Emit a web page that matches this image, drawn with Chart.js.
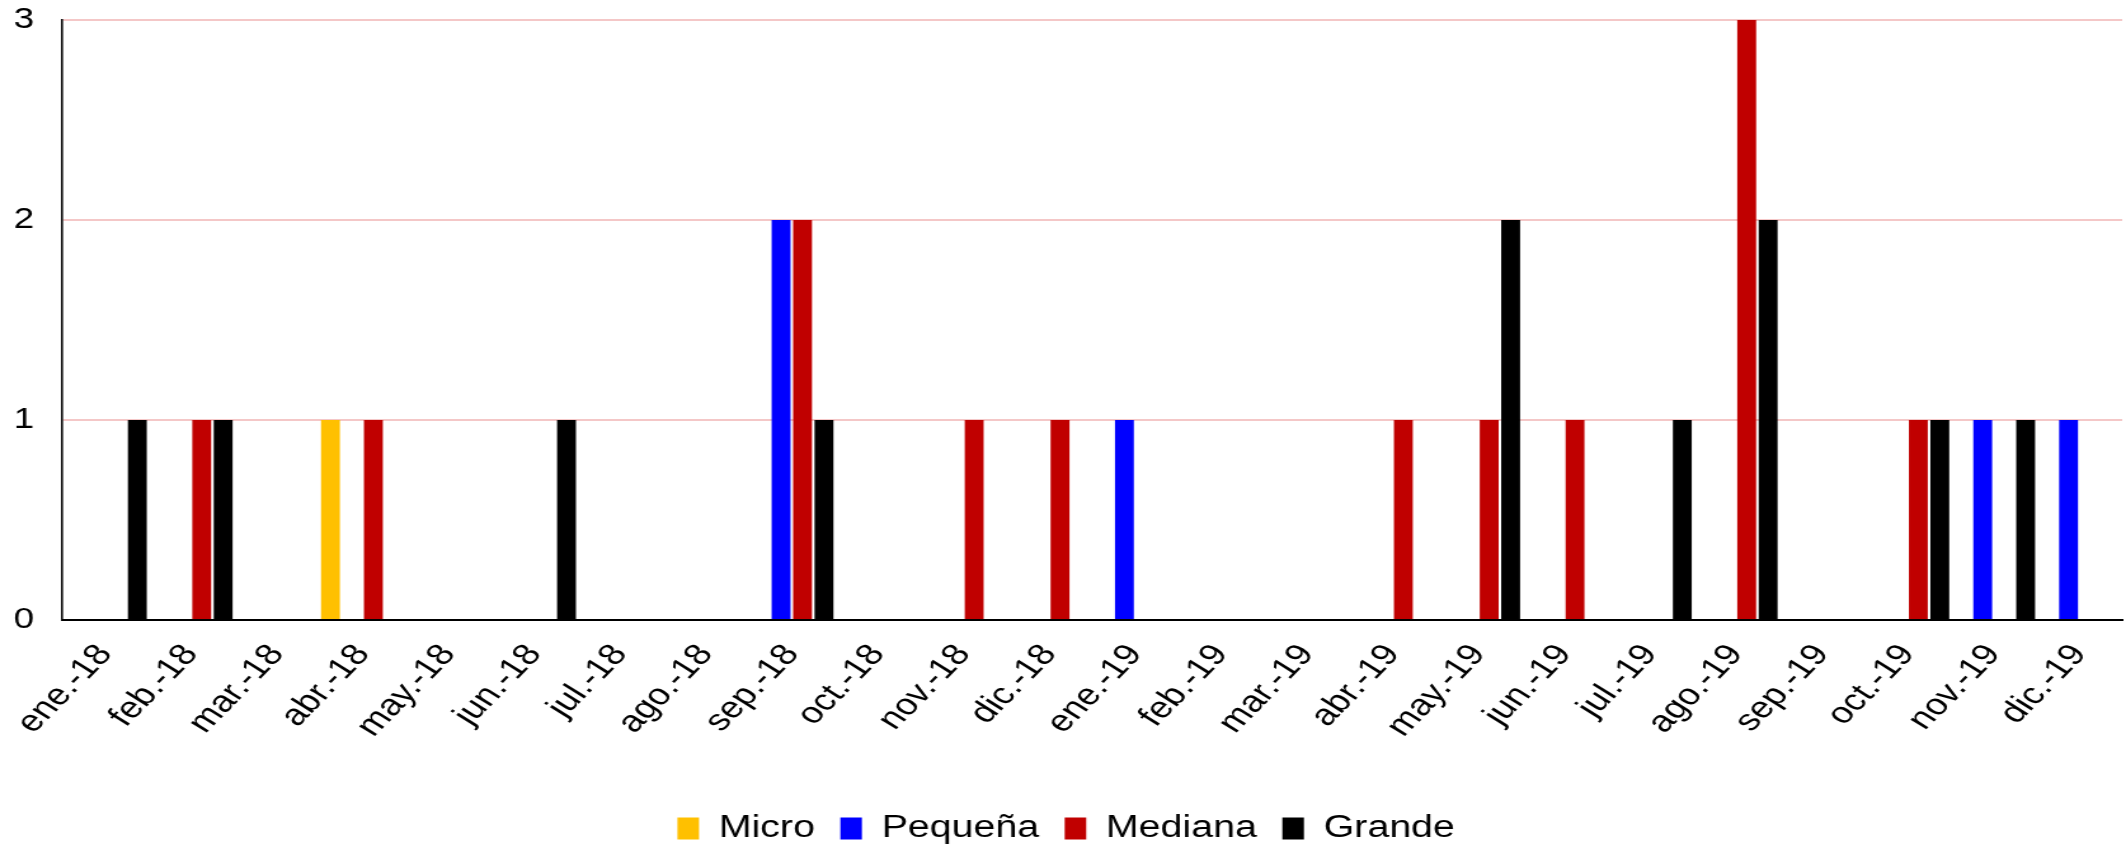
<!DOCTYPE html>
<html>
<head>
<meta charset="utf-8">
<script src="https://cdn.jsdelivr.net/npm/chart.js@4.4.0/dist/chart.umd.min.js"></script>
<style>
  html, body { margin: 0; padding: 0; background: #fff; overflow: hidden; }
  /* the reference text looks stretched sideways, so the canvas is drawn narrower and widened */
  #chart { display: block; width: 2126px; height: 854px; }
</style>
</head>
<body>
<canvas id="chart" width="1674" height="854" style="width:2126px;height:854px"></canvas>
<script>
const months = ['ene.-18', 'feb.-18', 'mar.-18', 'abr.-18', 'may.-18', 'jun.-18',
  'jul.-18', 'ago.-18', 'sep.-18', 'oct.-18', 'nov.-18', 'dic.-18',
  'ene.-19', 'feb.-19', 'mar.-19', 'abr.-19', 'may.-19', 'jun.-19',
  'jul.-19', 'ago.-19', 'sep.-19', 'oct.-19', 'nov.-19', 'dic.-19'];

const micro   = [0, 0, 0, 1, 0, 0, 0, 0, 0, 0, 0, 0, 0, 0, 0, 0, 0, 0, 0, 0, 0, 0, 0, 0];
const pequena = [0, 0, 0, 0, 0, 0, 0, 0, 2, 0, 0, 0, 1, 0, 0, 0, 0, 0, 0, 0, 0, 0, 1, 1];
const mediana = [0, 1, 0, 1, 0, 0, 0, 0, 2, 0, 1, 1, 0, 0, 0, 1, 1, 1, 0, 3, 0, 1, 0, 0];
const grande  = [1, 1, 0, 0, 0, 1, 0, 0, 1, 0, 0, 0, 0, 0, 0, 0, 2, 0, 1, 2, 0, 1, 1, 0];

const yTicks = [0, 1, 2, 3];

const stretch = 2126 / 1674;
const font = "'Liberation Sans', Arial, sans-serif";
const labelAngle = Math.atan(stretch) * 180 / Math.PI;
const leftPad = 8;

new Chart(document.getElementById('chart').getContext('2d'), {
  type: 'bar',
  data: {
    labels: months,
    datasets: [
      { label: 'Micro', data: micro, backgroundColor: '#FFC000' },
      { label: 'Pequeña', data: pequena, backgroundColor: '#0000FF' },
      { label: 'Mediana', data: mediana, backgroundColor: '#C00000' },
      { label: 'Grande', data: grande, backgroundColor: '#000000' }
    ]
  },
  options: {
    responsive: false,
    devicePixelRatio: 1,
    animation: false,
    categoryPercentage: 1.0,
    barPercentage: 0.88,
    layout: { padding: { top: 0, right: 3, left: leftPad, bottom: 0 } },
    plugins: {
      tooltip: { enabled: false },
      legend: {
        position: 'bottom',
        labels: {
          color: '#000',
          font: { family: font, size: 31 },
          boxWidth: Math.round(22 / stretch),
          boxHeight: 22,
          padding: 20
        }
      }
    },
    scales: {
      x: {
        grid: { display: false, drawTicks: false },
        border: { display: true, color: '#000', width: 2 },
        ticks: {
          color: '#000',
          font: { family: font, size: 30 },
          autoSkip: false,
          minRotation: labelAngle,
          maxRotation: labelAngle,
          padding: 18
        },
        afterFit: (scale) => {
          scale.height = 173;
          scale.paddingLeft = 0;
          scale.paddingRight = 0;
        }
      },
      y: {
        min: 0,
        max: 3,
        afterBuildTicks: (scale) => { scale.ticks = yTicks.map(v => ({ value: v })); },
        grid: { color: '#F4C7C7', lineWidth: 2, drawTicks: false },
        border: { display: true, color: '#000', width: 2 / stretch },
        ticks: {
          color: '#000',
          font: { family: font, size: 29 },
          padding: 22
        },
        afterFit: (scale) => {
          scale.width = 49 - leftPad;
          scale.paddingTop = 20;
          scale.paddingBottom = 0;
        }
      }
    }
  }
});
</script>
</body>
</html>
